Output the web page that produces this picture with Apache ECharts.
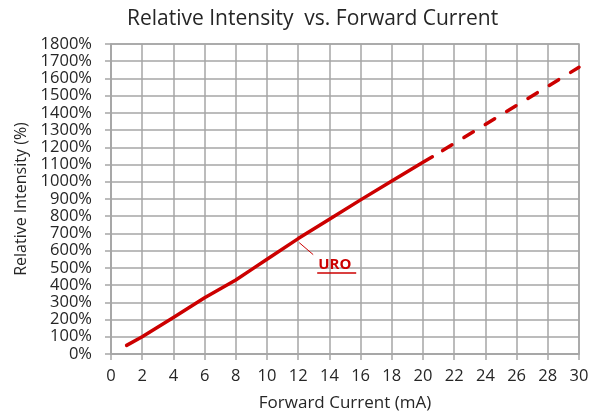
<!DOCTYPE html>
<html>
<head>
<meta charset="utf-8">
<script src="https://cdn.jsdelivr.net/npm/echarts@6/dist/echarts.min.js"></script>
<style>
  html, body { margin: 0; padding: 0; background: #fff; }
  #chart { width: 598px; height: 417px; }
</style>
</head>
<body>
<div id="chart"></div>
<script>
// measured curve (solid) and extrapolation (dashed)
const measuredCurrent = [1, 2, 4, 6, 8, 9, 10, 12, 14, 16, 18, 20, 20.6];
const measuredIntensity = [50, 100, 212, 327, 430, 490, 550, 670, 782, 895, 1005, 1113, 1145];
const extrapCurrent = [20.6, 30];
const extrapIntensity = [1145, 1665];
const seriesName = 'URO';
const labelAt = [12, 670];

const chart = echarts.init(document.getElementById('chart'));
const font = '"Open Sans", "Liberation Sans", sans-serif';
const red = '#cc0000';
const gridColor = '#a6a6a6';
const textColor = '#262626';

const toPairs = (xs, ys) => xs.map((x, i) => [x, ys[i]]);

chart.setOption({
    animation: false,
    title: {
        text: 'Relative Intensity  vs. Forward Current',
        left: 122,
        top: 4,
        textStyle: { fontFamily: font, fontSize: 21, fontWeight: 'normal', color: textColor }
    },
    grid: {
        left: 111, right: 19, top: 44, bottom: 63,
        show: true, borderColor: gridColor, borderWidth: 1.5
    },
    xAxis: {
        type: 'value', min: 0, max: 30, interval: 2,
        name: 'Forward Current (mA)', nameLocation: 'middle', nameGap: 41,
        nameTextStyle: { fontFamily: font, fontSize: 17, color: textColor },
        axisLine: { show: true, lineStyle: { color: gridColor, width: 1.5 } },
        axisTick: { show: true, length: 6, lineStyle: { color: gridColor, width: 1.5 } },
        axisLabel: { fontFamily: font, fontSize: 16.5, color: textColor, margin: 14 },
        splitLine: { show: true, lineStyle: { color: gridColor, width: 1.5 } }
    },
    yAxis: {
        type: 'value', min: 0, max: 1800, interval: 100,
        name: 'Relative Intensity (%)', nameLocation: 'middle', nameGap: 79,
        nameTextStyle: { fontFamily: font, fontSize: 16, color: textColor },
        axisLine: { show: true, lineStyle: { color: gridColor, width: 1.5 } },
        axisTick: { show: true, length: 6, lineStyle: { color: gridColor, width: 1.5 } },
        axisLabel: { fontFamily: font, fontSize: 16.5, color: textColor, margin: 19,
                     formatter: v => v + '%' },
        splitLine: { show: true, lineStyle: { color: gridColor, width: 1.5 } }
    },
    series: [
        {
            name: seriesName, type: 'line', showSymbol: false,
            lineStyle: { color: red, width: 3.5, cap: 'round', join: 'round' },
            data: toPairs(measuredCurrent, measuredIntensity)
        },
        {
            name: seriesName + ' (extrapolated)', type: 'line', showSymbol: false,
            lineStyle: { color: red, width: 3.5, type: [11, 14], dashOffset: -12, cap: 'round' },
            data: toPairs(extrapCurrent, extrapIntensity)
        }
    ]
});

// URO callout with leader line
const p = chart.convertToPixel({ gridIndex: 0 }, labelAt);
chart.setOption({
    graphic: [
        { type: 'line', shape: { x1: p[0] + 1, y1: p[1] + 4, x2: p[0] + 15, y2: p[1] + 16 },
          style: { stroke: red, lineWidth: 1 } },
        { type: 'text', x: p[0] + 20, y: p[1] + 26,
          style: { text: seriesName, fill: red, font: 'bold 15px ' + font, verticalAlign: 'middle' } },
        { type: 'line', shape: { x1: p[0] + 19, y1: p[1] + 34.5, x2: p[0] + 58, y2: p[1] + 34.5 },
          style: { stroke: red, lineWidth: 1.5 } }
    ]
});
</script>
</body>
</html>
